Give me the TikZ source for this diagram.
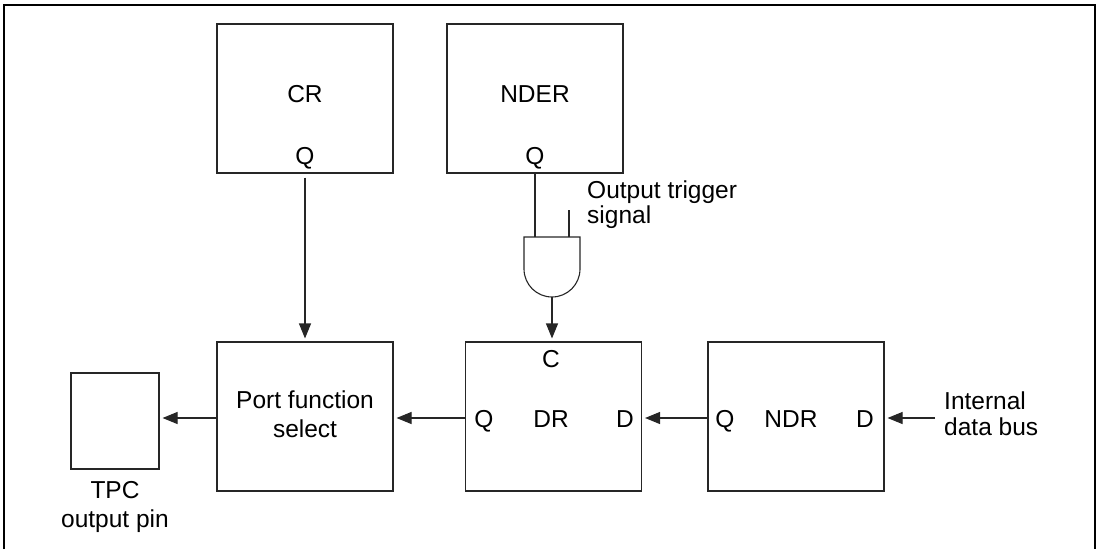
\documentclass[tikz,border=0pt]{standalone}
\usepackage{fontspec}
\setmainfont{Liberation Sans}
\usetikzlibrary{arrows.meta}
\begin{document}
\begin{tikzpicture}[x=1pt,y=-1pt,
  blk/.style={draw=black!85,line width=1.1pt,minimum width=176pt,minimum height=149pt,inner sep=0pt},
  lbl/.style={anchor=base,inner sep=0pt,font=\fontsize{24.5pt}{29pt}\selectfont},
  lbll/.style={anchor=base west,inner sep=0pt,font=\fontsize{24.5pt}{29pt}\selectfont},
  conn/.style={line width=1.1pt,draw=black!85},
  arr/.style={conn,-{Triangle[length=15pt,width=12pt]},shorten >=3pt}]
\useasboundingbox (0,0) rectangle (1100,549);
\draw[line width=1.4pt] (4,549) -- (4,5) -- (1095,5) -- (1095,549);
% boxes
\node[blk] (cr) at (305,98.5) {};
\node[blk] (nder) at (535,98.5) {};
\node[blk] (pfs) at (305,416.5) {};
\node[blk] (dr) at (553.5,416.5) {};
\node[blk] (ndr) at (796,416.5) {};
\node[blk,minimum width=88pt,minimum height=96pt] (tpc) at (115,421) {};
% labels
\node[lbl] (crt) at (305,102) {CR};
\node[lbl] (crq) at (305,164) {Q};
\node[lbl] (ndert) at (535,102) {NDER};
\node[lbl] (nderq) at (535,164) {Q};
\node[lbl] (pfs1) at (305,408) {Port function};
\node[lbl] (pfs2) at (305,437) {select};
\node[lbl] (drc) at (551,367) {C};
\node[lbl] (drq) at (484,427) {Q};
\node[lbl] (drt) at (551,427) {DR};
\node[lbl] (drd) at (625,427) {D};
\node[lbl] (ndrq) at (725,427) {Q};
\node[lbl] (ndrt) at (791,427) {NDR};
\node[lbl] (ndrd) at (865,427) {D};
\node[lbl] (tpc1) at (115,498) {TPC};
\node[lbl] (tpc2) at (115,527) {output pin};
\node[lbll] (ots1) at (587,198) {Output trigger};
\node[lbll] (ots2) at (587,223) {signal};
\node[lbll] (idb1) at (944,409) {Internal};
\node[lbll] (idb2) at (944,435) {data bus};
% AND gate
\coordinate (gA) at (535,237);
\coordinate (gB) at (569,237);
\coordinate (gtrig) at (569,210);
\coordinate (gout) at (552,297);
\draw[conn] (524,237) -- (580,237) -- (580,269) arc[start angle=0,end angle=180,radius=28] -- cycle;
\draw[conn] (nder.south) -- (gA);
\draw[conn] (gtrig) -- (gB);
\coordinate (busin) at (935,418);
% connectors
\draw[arr,shorten <=4pt] (cr.south) -- (pfs.north);
\draw[arr] (gout) -- (gout |- dr.north);
\draw[arr] (pfs.west |- 0,418) -- (tpc.east |- 0,418);
\draw[arr] (dr.west |- 0,418) -- (pfs.east |- 0,418);
\draw[arr] (ndr.west |- 0,418) -- (dr.east |- 0,418);
\draw[arr] (busin) -- (ndr.east |- busin);
\end{tikzpicture}
\end{document}
